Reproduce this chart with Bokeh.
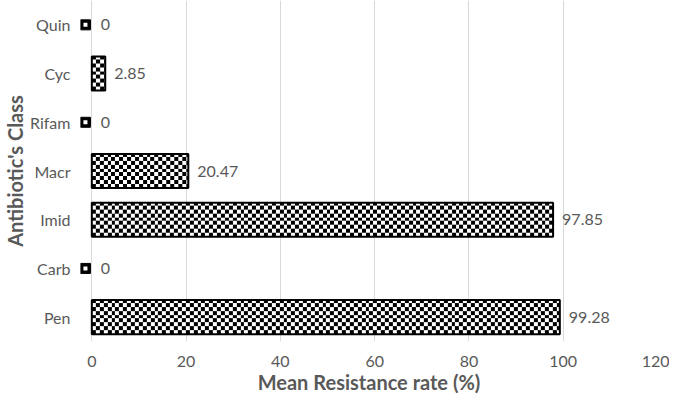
import numpy as np
from bokeh.plotting import figure
from bokeh.models import ColumnDataSource
from bokeh.core.properties import value
from bokeh.embed import file_html
from bokeh.resources import INLINE

categories = ["Pen", "Carb", "Imid", "Macr", "Rifam", "Cyc", "Quin"]
rates = [99.28, 0, 97.85, 20.47, 0, 2.85, 0]
labels = ["99.28", "0", "97.85", "20.47", "0", "2.85", "0"]
x_ticks = [0, 20, 40, 60, 80, 100, 120]

FONT = "Lato"
GREY = "#595959"
X_START, X_END = -2.4, 120
BAR_H = 0.7
PX_PER_UNIT = 590 / (X_END - X_START)   # approx. frame width / range
BAR_PX = 35                              # approx. bar height in pixels
CELL = 4


def checker(w_px, h_px, cell=CELL):
    yy, xx = np.mgrid[0:h_px, 0:w_px]
    black = ((xx // cell) + (yy // cell)) % 2 == 0
    img = np.full((h_px, w_px), 0xFFFFFFFF, dtype=np.uint32)
    img[black] = 0xFF000000
    return img


src = ColumnDataSource(dict(cat=categories, rate=rates, label=labels))

pos_idx = [i for i, v in enumerate(rates) if v > 0]
psrc = ColumnDataSource(dict(
    image=[checker(max(1, int(round(rates[i] * PX_PER_UNIT))), BAR_PX) for i in pos_idx],
    y=[(categories[i], -BAR_H / 2) for i in pos_idx],
    cat=[categories[i] for i in pos_idx],
    rate=[rates[i] for i in pos_idx],
))

zero_idx = [i for i, v in enumerate(rates) if v == 0]
zsrc = ColumnDataSource(dict(cat=[categories[i] for i in zero_idx],
                             x=[rates[i] - 1.35 for i in zero_idx]))

p = figure(width=669, height=396, y_range=categories, x_range=(X_START, X_END),
           output_backend="svg", toolbar_location=None,
           min_border_left=67, min_border_right=12, min_border_top=0,
           min_border_bottom=46)
p.outline_line_color = None

p.image_rgba(image="image", x=0, y="y", dw="rate", dh=BAR_H, source=psrc)

p.hbar(y="cat", right="rate", left=0, height=BAR_H, source=psrc,
       fill_alpha=0, line_color="black", line_width=2)

p.rect(x="x", y="cat", width=10, height=10, width_units="screen",
       height_units="screen", source=zsrc, fill_color="black",
       line_color="black")
p.rect(x="x", y="cat", width=4, height=4, width_units="screen",
       height_units="screen", source=zsrc, fill_color="white",
       line_color=None)

p.text(x="rate", y="cat", text="label", source=src, x_offset=9,
       text_baseline="middle", text_align="left", text_color=GREY,
       text_font=value(FONT), text_font_size="16px")

p.xaxis.ticker = x_ticks
p.xaxis.axis_label = "Mean Resistance rate (%)"
p.yaxis.axis_label = "Antibiotic's Class"
for ax in (p.xaxis, p.yaxis):
    ax.axis_line_color = None
    ax.major_tick_line_color = None
    ax.minor_tick_line_color = None
    ax.major_label_text_color = GREY
    ax.major_label_text_font = FONT
    ax.major_label_text_font_size = "16px"
    ax.axis_label_text_color = GREY
    ax.axis_label_text_font = FONT
    ax.axis_label_text_font_style = "bold"
p.xaxis.axis_label_text_font_size = "20px"
p.yaxis.axis_label_text_font_size = "20px"
p.xaxis.major_label_standoff = 8
p.xaxis.axis_label_standoff = 0
p.yaxis.major_label_standoff = 4
p.yaxis.axis_label_standoff = 0

p.ygrid.grid_line_color = None
p.xgrid.grid_line_color = "#d9d9d9"
p.xgrid.grid_line_width = 1

open("out.html", "w").write(file_html(p, INLINE))
